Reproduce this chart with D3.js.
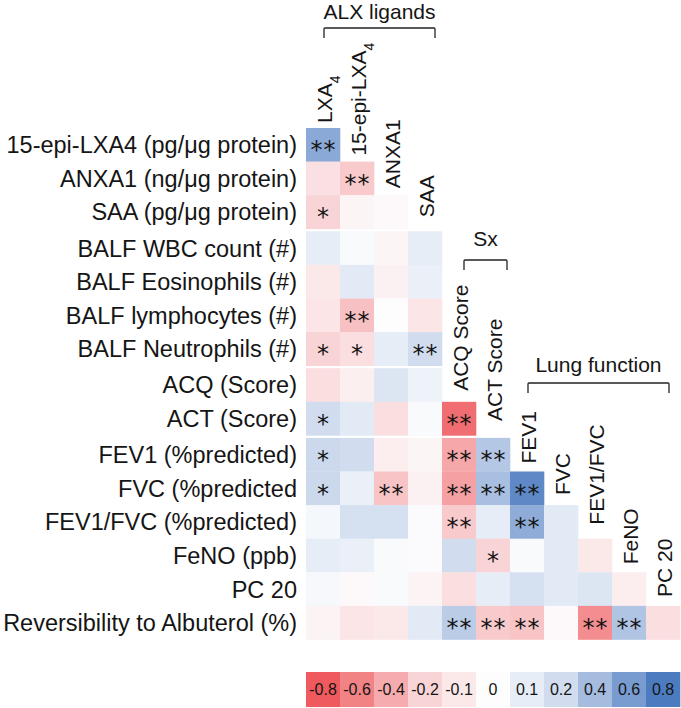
<!DOCTYPE html>
<html lang="en">
<head>
<meta charset="UTF-8">
<title>Correlation matrix</title>
<script src="https://cdn.jsdelivr.net/npm/d3@7"></script>
<style>
  body { margin: 0; background: #fff; }
  text { font-family: "Liberation Sans", Arial, Helvetica, sans-serif; fill: #151515; }
</style>
</head>
<body>
<script>
// columns of the matrix (top labels)
const columns = ['LXA4', '15-epi-LXA4', 'ANXA1', 'SAA', 'ACQ Score', 'ACT Score', 'FEV1', 'FVC', 'FEV1/FVC', 'FeNO', 'PC 20']

// row labels (left)
const rowLabels = [
  '15-epi-LXA4 (pg/\u03bcg protein)',
  'ANXA1 (ng/\u03bcg protein)',
  'SAA (pg/\u03bcg protein)',
  'BALF WBC count (#)',
  'BALF Eosinophils (#)',
  'BALF lymphocytes (#)',
  'BALF Neutrophils (#)',
  'ACQ (Score)',
  'ACT (Score)',
  'FEV1 (%predicted)',
  'FVC (%predicted',
  'FEV1/FVC (%predicted)',
  'FeNO (ppb)',
  'PC 20',
  'Reversibility to Albuterol (%)'
]

// correlation coefficients, one list per row (lower triangle)
const values = [
  [0.52],
  [-0.14, -0.25],
  [-0.2, -0.04, -0.02],
  [0.1, 0.02, -0.04, 0.1],
  [-0.1, 0.12, -0.06, 0.08],
  [-0.12, -0.3, 0.0, -0.12],
  [-0.2, -0.15, 0.1, 0.2],
  [-0.15, -0.07, 0.15, 0.07],
  [0.2, 0.12, -0.15, 0.02, -0.7],
  [0.22, 0.2, -0.08, -0.04, -0.42, 0.33],
  [0.22, 0.08, -0.28, -0.06, -0.45, 0.38, 0.72],
  [0.04, 0.18, 0.18, 0.01, -0.25, 0.1, 0.5, 0.12],
  [0.1, 0.08, 0.02, 0.01, 0.2, -0.2, 0.02, 0.12, -0.1],
  [0.03, -0.02, 0.02, -0.05, -0.15, 0.1, 0.18, 0.12, 0.15, -0.08],
  [-0.05, -0.12, -0.1, 0.12, 0.3, -0.25, -0.28, -0.02, -0.55, 0.35, -0.15]
]

// significance marks, same shape as values
const stars = [
  ['**'],
  ['', '**'],
  ['*', '', ''],
  ['', '', '', ''],
  ['', '', '', ''],
  ['', '**', '', ''],
  ['*', '*', '', '**'],
  ['', '', '', ''],
  ['*', '', '', '', '**'],
  ['*', '', '', '', '**', '**'],
  ['*', '', '**', '', '**', '**', '**'],
  ['', '', '', '', '**', '', '**', ''],
  ['', '', '', '', '', '*', '', '', ''],
  ['', '', '', '', '', '', '', '', '', ''],
  ['', '', '', '', '**', '**', '**', '', '**', '**', '']
]

const legendValues = [-0.8, -0.6, -0.4, -0.2, -0.1, 0, 0.1, 0.2, 0.4, 0.6, 0.8]
const legendLabels = ['-0.8', '-0.6', '-0.4', '-0.2', '-0.1', '0', '0.1', '0.2', '0.4', '0.6', '0.8']

const groupNames = ['ALX ligands', 'Sx', 'Lung function']
const groupFirst = ['LXA4', 'ACQ Score', 'FEV1']
const groupLast = ['SAA', 'ACT Score', 'PC 20']

// rows after which a white separator is drawn
const rowBreaks = [3, 7, 9]

const width = 681
const height = 708
const cellH = 33.6
const gap = 2.5
const gridTop = 128

const svg = d3.select('body').append('svg')
  .attr('width', width)
  .attr('height', height)

const x = d3.scaleBand()
  .domain(columns)
  .range([306, 680])

const yBand = d3.scaleBand()
  .domain(d3.range(rowLabels.length))
  .range([gridTop, gridTop + rowLabels.length * cellH])

const y = (i) => yBand(i) + gap * rowBreaks.filter(b => b <= i).length

const colour = d3.scaleLinear()
  .domain([-0.8, 0, 0.8])
  .range(['#ee5a5d', '#fdfdfe', '#4c7bc0'])
  .clamp(true)

// flatten cells
const cells = []
values.forEach((row, i) => {
  row.forEach((v, j) => {
    cells.push({ row: i, col: columns[j], value: v, sig: stars[i][j] })
  })
})

const grid = svg.append('g')

grid.selectAll('rect')
  .data(cells)
  .enter()
  .append('rect')
  .attr('x', d => x(d.col))
  .attr('y', d => y(d.row))
  .attr('width', x.bandwidth() + 0.3)
  .attr('height', yBand.bandwidth() + 0.3)
  .attr('fill', d => colour(d.value))

// asterisks, each one placed on its own so they stay centred
const starW = 13
grid.selectAll('g.sig')
  .data(cells.filter(d => d.sig))
  .enter()
  .append('g')
  .attr('class', 'sig')
  .each(function (d) {
    const n = d.sig.length
    const cx = x(d.col) + x.bandwidth() / 2
    const cy = y(d.row) + yBand.bandwidth() / 2
    for (let k = 0; k < n; k++) {
      d3.select(this).append('text')
        .attr('x', cx + (k - (n - 1) / 2) * starW)
        .attr('y', cy)
        .attr('dy', '0.56em')
        .attr('text-anchor', 'middle')
        .style('font-family', '"DejaVu Sans", sans-serif')
        .style('font-size', '24px')
        .text('*')
    }
  })

// row labels
svg.append('g')
  .selectAll('text')
  .data(rowLabels)
  .enter()
  .append('text')
  .attr('x', 297)
  .attr('y', (d, i) => y(i) + yBand.bandwidth() / 2)
  .attr('dy', '0.36em')
  .attr('text-anchor', 'end')
  .style('font-size', '23.5px')
  .text(d => d)

// column labels, placed just above the first cell of each column
const labelGap = [5, 6, 7, 14, 11, 17, 8, 10, 14, 8, 9]
const firstRow = (j) => values.findIndex(r => r.length > j)

const colLabels = svg.append('g')
  .selectAll('text')
  .data(columns)
  .enter()
  .append('text')
  .attr('transform', (d, j) => `translate(${x(d) + x.bandwidth() / 2 + 1},${y(firstRow(j)) - labelGap[j]}) rotate(-90)`)
  .attr('dy', '0.36em')
  .style('font-size', '21px')

colLabels.each(function (d) {
  const t = d3.select(this)
  if (d.endsWith('LXA4')) {
    t.append('tspan').text(d.slice(0, -1))
    t.append('tspan').text('4')
      .attr('baseline-shift', 'sub')
      .style('font-size', '14px')
  } else {
    t.text(d)
  }
})

// group brackets
const bracketY = [28, 260, 383]
const titleY = [18.5, 246, 372]
const padL = [1, 5, 1]
const padR = [10, 14, 6]

groupNames.forEach((name, k) => {
  const x1 = x(groupFirst[k]) + x.bandwidth() / 2 + padL[k]
  const x2 = x(groupLast[k]) + x.bandwidth() / 2 + padR[k]
  svg.append('path')
    .attr('d', `M${x1},${bracketY[k] + 10}V${bracketY[k] + 1}Q${x1},${bracketY[k]} ${x1 + 1},${bracketY[k]}H${x2 - 1}Q${x2},${bracketY[k]} ${x2},${bracketY[k] + 1}V${bracketY[k] + 10}`)
    .attr('fill', 'none')
    .attr('stroke', '#222')
    .attr('stroke-width', 1.3)
  svg.append('text')
    .attr('x', (x1 + x2) / 2)
    .attr('y', titleY[k])
    .attr('text-anchor', 'middle')
    .style('font-size', '21px')
    .text(name)
})

// colour legend
const legendX = d3.scaleBand()
  .domain(legendValues)
  .range([306, 680])

const legend = svg.append('g')
  .attr('transform', 'translate(0,672)')

legend.selectAll('rect')
  .data(legendValues)
  .enter()
  .append('rect')
  .attr('x', d => legendX(d))
  .attr('width', legendX.bandwidth() + 0.3)
  .attr('height', 35)
  .attr('fill', d => colour(d))

legend.selectAll('text')
  .data(legendValues)
  .enter()
  .append('text')
  .attr('x', d => legendX(d) + legendX.bandwidth() / 2)
  .attr('y', 17.5)
  .attr('dy', '0.36em')
  .attr('text-anchor', 'middle')
  .style('font-size', '16px')
  .text((d, i) => legendLabels[i])
</script>
</body>
</html>
